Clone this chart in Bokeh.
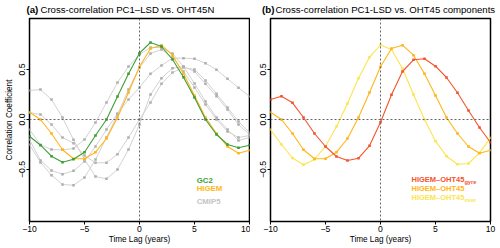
from bokeh.plotting import figure
from bokeh.layouts import row, column
from bokeh.models import Label, Span, FixedTicker
from bokeh.embed import file_html
from bokeh.resources import INLINE

lags = list(range(-10, 11))

gc2 = [-0.167, -0.257, -0.367, -0.427, -0.397, -0.327, -0.16, 0.0, 0.23, 0.457, 0.663,
       0.77, 0.73, 0.60, 0.423, 0.22, 0.0, -0.15, -0.25, -0.283, -0.257]
higem = [0.073, 0.0, -0.14, -0.303, -0.393, -0.393, -0.327, -0.19, 0.02, 0.27, 0.527,
         0.71, 0.743, 0.643, 0.457, 0.24, 0.02, -0.14, -0.27, -0.337, -0.307]
cmip5_a = [-0.10, -0.253, -0.30, -0.303, -0.29, -0.20, -0.03, 0.17, 0.37, 0.53, 0.65,
           0.72, 0.72, 0.66, 0.53, 0.36, 0.18, 0.02, -0.10, -0.21, -0.18]
cmip5_b = [0.07, 0.05, -0.05, -0.18, -0.237, -0.36, -0.433, -0.433, -0.347, -0.18, 0.0,
           0.17, 0.357, 0.47, 0.52, 0.50, 0.39, 0.257, 0.12, -0.02, -0.13]
cmip5_c = [0.29, 0.30, 0.20, 0.02, -0.203, -0.40, -0.57, -0.593, -0.50, -0.30, -0.05,
           0.25, 0.413, 0.513, 0.53, 0.48, 0.357, 0.233, 0.10, -0.05, -0.15]
cmip5_d = [-0.20, -0.41, -0.51, -0.547, -0.513, -0.42, -0.27, -0.10, 0.06, 0.20, 0.32,
           0.457, 0.54, 0.613, 0.613, 0.607, 0.563, 0.497, 0.407, 0.317, 0.23]
cmip5_e = [-0.25, -0.43, -0.557, -0.65, -0.657, -0.58, -0.40, -0.18, 0.05, 0.30, 0.52,
           0.66, 0.70, 0.62, 0.48, 0.32, 0.15, 0.0, -0.12, -0.18, -0.16]
cmip5 = [cmip5_a, cmip5_b, cmip5_c, cmip5_d, cmip5_e]

oht_gyre = [0.20, 0.233, 0.167, 0.02, -0.14, -0.27, -0.37, -0.41, -0.387, -0.263, -0.027,
            0.247, 0.48, 0.597, 0.607, 0.533, 0.42, 0.267, 0.09, -0.08, -0.23]
oht_total = higem
oht_over = [-0.10, -0.25, -0.385, -0.453, -0.40, -0.267, -0.07, 0.16, 0.413, 0.623, 0.745,
            0.70, 0.51, 0.25, 0.0, -0.217, -0.367, -0.447, -0.44, -0.333, -0.183]

xticks = [-10, -5, 0, 5, 10]
xtick_labels = {-10: "\u221210", -5: "\u22125", 0: "0", 5: "5", 10: "10"}
yticks = [-0.5, 0.0, 0.5]
ytick_labels = {-0.5: "\u22120.5", 0: "0.0", 0.5: "0.5"}

FONT = "Liberation Sans"
GREEN = "#3f9f37"
ORANGE = "#ffb619"
GREY_L = "#d2d2d2"
GREY_P = "#b0b0b0"
RED = "#f5532f"
YELLOW = "#fbe54f"


def label(p, x, y, text, size, color="black", style="normal", align="left", angle=0):
    p.add_layout(Label(x=x, y=y, text=text, text_font=FONT, text_font_size=size,
                       text_color=color, text_font_style=style, text_align=align,
                       text_baseline="middle", angle=angle))


def make_fig(border_left, border_right, ylabel=None):
    p = figure(width=250, height=231, x_range=(-10, 10), y_range=(-1.02, 1.01),
               output_backend="svg", toolbar_location=None,
               min_border_left=border_left, min_border_right=border_right,
               min_border_top=1, min_border_bottom=27)
    p.xgrid.visible = False
    p.ygrid.visible = False
    p.outline_line_color = "black"
    p.outline_line_width = 1.5
    p.outline_line_alpha = 1
    p.background_fill_color = "white"
    p.border_fill_color = "white"
    for ax in (p.xaxis[0], p.yaxis[0]):
        ax.axis_line_color = None
        ax.major_tick_line_color = "black"
        ax.major_tick_out = 3
        ax.major_tick_in = 0
        ax.minor_tick_line_color = None
        ax.major_label_text_font = FONT
        ax.major_label_text_font_size = "8.6px"
        ax.major_label_text_color = "black"
        ax.axis_label_text_font = FONT
        ax.axis_label_text_font_size = "8.2px"
        ax.axis_label_text_font_style = "normal"
        ax.axis_label_text_color = "black"
    p.xaxis.ticker = FixedTicker(ticks=xticks)
    p.xaxis.major_label_overrides = xtick_labels
    p.xaxis.major_label_standoff = 1
    p.xaxis.axis_label = "Time Lag (years)"
    p.xaxis.axis_label_standoff = 0
    p.yaxis.ticker = FixedTicker(ticks=yticks)
    p.yaxis.major_label_overrides = ytick_labels
    p.yaxis.major_label_orientation = "vertical"
    p.yaxis.major_label_standoff = 2
    if ylabel:
        p.yaxis.axis_label = ylabel
        p.yaxis.axis_label_standoff = 2
    p.add_layout(Span(location=0, dimension="width", line_color="#666666",
                      line_dash="2 2", line_width=1))
    p.add_layout(Span(location=0, dimension="height", line_color="#666666",
                      line_dash="2 2", line_width=1))
    return p


def series(p, y, color, pcolor=None, lw=1.1):
    p.line(lags, y, line_color=color, line_width=lw)
    p.scatter(lags, y, marker="square", size=2.6, fill_color=pcolor or color,
              line_color=None)


# ---- title strip (pixel coordinates)
pt = figure(width=500, height=17, x_range=(0, 500), y_range=(17, 0),
            output_backend="svg", toolbar_location=None,
            min_border=0, x_axis_type=None, y_axis_type=None)
pt.xgrid.visible = False
pt.ygrid.visible = False
pt.outline_line_color = None
label(pt, 26, 9, "(a)", "9.7px", style="bold")
label(pt, 40, 9, "Cross-correlation PC1\u2013LSD vs. OHT45N", "9.6px")
label(pt, 261.5, 9, "(b)", "9.7px", style="bold")
label(pt, 275, 9, "Cross-correlation PC1-LSD vs. OHT45 components", "9.6px")

# ---- panel (a)
pa = make_fig(29, 1, "Correlation Coefficient")
for c in cmip5:
    series(pa, c, GREY_L, GREY_P, lw=1)
series(pa, higem, ORANGE)
series(pa, gc2, GREEN)
label(pa, 5.2, -0.605, "GC2", "7.8px", GREEN, "bold")
label(pa, 5.2, -0.693, "HIGEM", "7.8px", ORANGE, "bold")
label(pa, 5.2, -0.82, "CMIP5", "7.8px", "#c4c4c4", "bold")

# ---- panel (b)
pb = make_fig(20, 10)
series(pb, oht_over, YELLOW)
series(pb, oht_total, ORANGE)
series(pb, oht_gyre, RED)
label(pb, 2.82, -0.60, "HIGEM\u2013OHT45", "7.5px", RED, "bold")
label(pb, 7.63, -0.625, "gyre", "5.6px", RED, "bold")
label(pb, 2.82, -0.69, "HIGEM\u2013OHT45", "7.5px", ORANGE, "bold")
label(pb, 2.82, -0.78, "HIGEM\u2013OHT45", "7.5px", YELLOW, "bold")
label(pb, 7.63, -0.805, "over", "5.6px", YELLOW, "bold")

layout = column(pt, row(pa, pb))
html = file_html(layout, INLINE)
html = html.replace("<head>", "<head><style>html,body{margin:0;padding:0;}</style>", 1)
open("out.html", "w").write(html)
